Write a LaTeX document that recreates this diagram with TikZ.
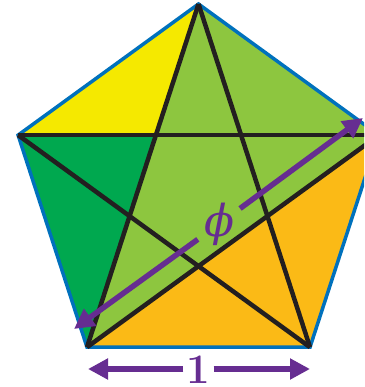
\documentclass[tikz,border=0pt]{standalone}
\usepackage{fontspec}
\newfontfamily\phifont{DejaVu Serif}
\usetikzlibrary{arrows.meta}
\definecolor{pyellow}{HTML}{F5E900}
\definecolor{pdgreen}{HTML}{00A84F}
\definecolor{plgreen}{HTML}{8DC63F}
\definecolor{pgold}{HTML}{FBBA16}
\definecolor{pblue}{HTML}{0071BC}
\definecolor{ppurple}{HTML}{662D91}
\definecolor{pblack}{HTML}{231F20}
\begin{document}
\begin{tikzpicture}[x=1pt,y=-1pt,
  border/.style={draw=pblue,line width=3.5pt,line join=miter},
  diag/.style={draw=pblack,line width=4.5pt,line join=miter},
  measure/.style={draw=ppurple,line width=5.5pt,-{Triangle[length=20pt,width=20pt]}},
  lbl/.style={text=ppurple,font=\fontsize{44}{44}\selectfont}]
\useasboundingbox (0,0) rectangle (364,387);
\clip (0,0) rectangle (364,387);
\coordinate (A) at (198.5,4);
\coordinate (B) at (18.1,135.1);
\coordinate (C) at (87.0,347.2);
\coordinate (D) at (310.0,347.2);
\coordinate (E) at (378.9,135.1);
\coordinate (P) at (155.9,135.1);
% coloured regions
\fill[pyellow] (A) -- (B) -- (P) -- cycle;
\fill[pdgreen] (B) -- (P) -- (C) -- cycle;
\fill[plgreen] (A) -- (C) -- (E) -- cycle;
\fill[pgold] (C) -- (D) -- (E) -- cycle;
% outline and diagonals
\draw[border] (A) -- (B) -- (C) -- (D) -- (E) -- cycle;
\draw[diag] (A) -- (C);
\draw[diag] (A) -- (D);
\draw[diag] (B) -- (E);
\draw[diag] (B) -- (D);
\draw[diag] (C) -- (E);
% phi measure
\coordinate (lo) at (74,329);
\coordinate (hi) at (363,118);
\node[lbl, circle, inner sep=0pt, minimum size=48pt] (phi) at (219,224) {\phifont\itshape ϕ};
\draw[measure] (phi) -- (hi);
\draw[measure] (phi) -- (lo);
% unit measure
\node[lbl, font=\fontsize{42}{42}\selectfont\bfseries, anchor=base, inner xsep=3pt, inner ysep=0pt] (one) at (198.5,383) {1};
\coordinate (oneL) at (88,369);
\coordinate (oneR) at (310,369);
\draw[measure] (oneL -| one.west) -- (oneL);
\draw[measure] (oneR -| one.east) -- (oneR);
\end{tikzpicture}
\end{document}
